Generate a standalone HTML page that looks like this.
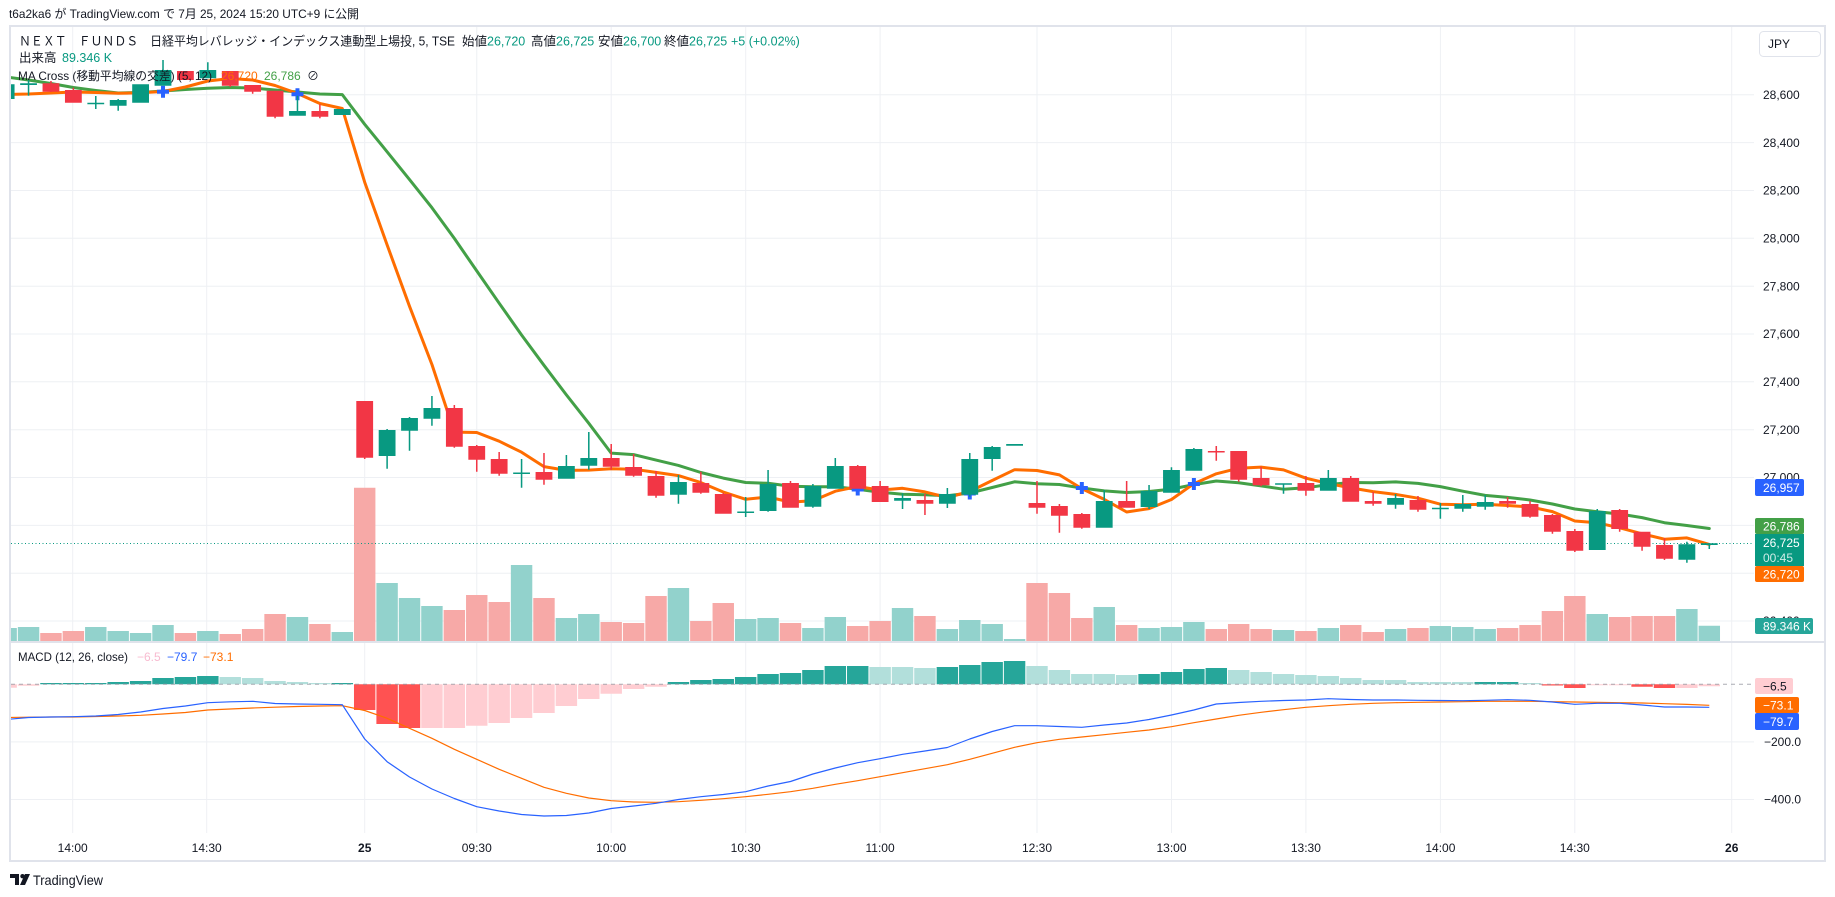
<!DOCTYPE html>
<html><head><meta charset="utf-8">
<style>
html,body{margin:0;padding:0;background:#fff;}
svg{display:block;}
text{font-family:"Liberation Sans","Noto Sans CJK JP",sans-serif;}
</style></head><body>
<svg width="1835" height="897" viewBox="0 0 1835 897" xmlns="http://www.w3.org/2000/svg">
<defs>
<clipPath id="cm"><rect x="11" y="27" width="1743" height="614"/></clipPath>
<clipPath id="cd"><rect x="11" y="643" width="1743" height="190"/></clipPath>
</defs>
<rect width="1835" height="897" fill="#fff"/>
<text x="9" y="18" font-size="12" fill="#131722" textLength="350" lengthAdjust="spacingAndGlyphs">t6a2ka6 が TradingView.com で 7月 25, 2024 15:20 UTC+9 に公開</text>
<rect x="10" y="26" width="1815" height="835" fill="#fff" stroke="#e0e3eb" stroke-width="2"/>

<!-- grid -->
<g stroke="#eef0f4" stroke-width="1">
<path d="M11 94.8H1754M11 142.6H1754M11 190.5H1754M11 238.3H1754M11 286.2H1754M11 334H1754M11 381.8H1754M11 429.7H1754M11 477.5H1754M11 525.4H1754M11 573.2H1754M11 621H1754M11 741.9H1754M11 799.5H1754"/>
<path d="M72.7 27V833M206.7 27V833M364.7 27V833M476.75 27V833M611.2 27V833M745.7 27V833M880.1 27V833M1037 27V833M1171.5 27V833M1305.9 27V833M1440.4 27V833M1574.8 27V833M1731.7 27V833"/>
</g>
<line x1="11" y1="642" x2="1824" y2="642" stroke="#e0e3eb" stroke-width="2"/>

<!-- main pane -->
<g clip-path="url(#cm)">
<g transform="translate(364.7 0) scale(22.41 1)">
<path fill="#92d2cc" d="M-16.478,628h.956V641h-.956zM-15.478,627h.956V641h-.956zM-12.478,627h.956V641h-.956zM-11.478,631h.956V641h-.956zM-10.478,633h.956V641h-.956zM-9.478,625h.956V641h-.956zM-7.478,631h.956V641h-.956zM-3.478,617h.956V641h-.956zM-1.478,632h.956V641h-.956zM.522,583h.956V641h-.956zM1.522,598h.956V641h-.956zM2.522,606h.956V641h-.956zM6.522,565h.956V641h-.956zM8.522,618h.956V641h-.956zM9.522,614h.956V641h-.956zM13.522,588h.956V641h-.956zM16.522,619h.956V641h-.956zM17.522,618h.956V641h-.956zM19.522,628h.956V641h-.956zM20.522,617h.956V641h-.956zM23.522,608h.956V641h-.956zM25.522,629h.956V641h-.956zM26.522,620h.956V641h-.956zM27.522,624h.956V641h-.956zM28.522,639h.956V641h-.956zM32.522,607h.956V641h-.956zM34.522,628h.956V641h-.956zM35.522,627h.956V641h-.956zM36.522,622h.956V641h-.956zM40.522,630h.956V641h-.956zM42.522,628h.956V641h-.956zM45.522,629h.956V641h-.956zM47.522,626h.956V641h-.956zM48.522,627h.956V641h-.956zM49.522,629h.956V641h-.956zM54.522,614h.956V641h-.956zM58.522,609h.956V641h-.956zM59.522,625.7h.956V641h-.956z"/>
<path fill="#f7a9a7" d="M-14.478,633h.956V641h-.956zM-13.478,631h.956V641h-.956zM-8.478,633h.956V641h-.956zM-6.478,634h.956V641h-.956zM-5.478,629h.956V641h-.956zM-4.478,614h.956V641h-.956zM-2.478,624h.956V641h-.956zM-.478,487.7h.956V641h-.956zM3.522,610h.956V641h-.956zM4.522,595h.956V641h-.956zM5.522,602h.956V641h-.956zM7.522,598h.956V641h-.956zM10.522,622h.956V641h-.956zM11.522,623h.956V641h-.956zM12.522,596h.956V641h-.956zM14.522,621h.956V641h-.956zM15.522,603h.956V641h-.956zM18.522,623h.956V641h-.956zM21.522,626h.956V641h-.956zM22.522,621h.956V641h-.956zM24.522,616h.956V641h-.956zM29.522,583h.956V641h-.956zM30.522,593h.956V641h-.956zM31.522,618h.956V641h-.956zM33.522,625h.956V641h-.956zM37.522,629h.956V641h-.956zM38.522,624h.956V641h-.956zM39.522,629h.956V641h-.956zM41.522,631h.956V641h-.956zM43.522,625h.956V641h-.956zM44.522,632h.956V641h-.956zM46.522,628h.956V641h-.956zM50.522,628h.956V641h-.956zM51.522,625h.956V641h-.956zM52.522,611h.956V641h-.956zM53.522,596h.956V641h-.956zM55.522,617h.956V641h-.956zM56.522,616h.956V641h-.956zM57.522,616h.956V641h-.956z"/>

<polyline fill="none" stroke="#43a047" stroke-width="3" vector-effect="non-scaling-stroke" stroke-linejoin="round" stroke-linecap="round" points="-16,77 -15,80 -14,83.5 -13,87.5 -12,90.5 -11,93 -10,92.5 -9,91 -8,89.5 -7,88.3 -6,87.5 -5,88 -4,90 -3,92 -2,94 -1,94.6 0,124.3 1,151.8 2,179.6 3,207.7 4,238.4 5,270.9 6,303.2 7,335 8,365.3 9,394.9 10,423.3 11,453.1 12,454.6 13,460.1 14,465.4 15,472.5 16,478.1 17,482.5 18,483.3 19,486.2 20,486.7 21,486.7 22,489.3 23,492.2 24,494.2 25,494.8 26,495.8 27,493 28,487.5 29,481.8 30,483.8 31,484.5 32,488 33,490.9 34,492.5 35,491.5 36,489.1 37,484.6 38,481 39,482.75 40,485.9 41,489.2 42,487.8 43,484.6 44,482.5 45,482.7 46,481.9 47,483.4 48,486.6 49,491.2 50,495.4 51,497.4 52,500 53,504 54,509 55,511.7 56,514 57,517.6 58,522.7 59,525.5 60,528.5"/>
<polyline fill="none" stroke="#ff6d00" stroke-width="3" vector-effect="non-scaling-stroke" stroke-linejoin="round" stroke-linecap="round" points="-16,94.5 -15,94 -14,93 -13,92 -12,92.5 -11,93.3 -10,92.8 -9,91.5 -8,87 -7,81 -6,78.5 -5,80 -4,85.5 -3,93.5 -2,103.5 -1,108.5 0,182.2 1,244.9 2,306.3 3,364.5 4,432.1 5,432.5 6,441.2 7,452.2 8,466.6 9,470.4 10,470.1 11,468.7 12,469.2 13,472.4 14,475.6 15,482.6 16,492 17,499.3 18,497 19,502.1 20,500.8 21,491.2 22,486.5 23,490.1 24,488.3 25,491.9 26,497.5 27,491.5 28,480.5 29,469.7 30,470.5 31,474.9 32,488.6 33,499.4 34,512 35,508.6 36,499.5 37,483.7 38,473.8 39,468.2 40,467.1 41,469.9 42,478.2 43,483.5 44,487.9 45,491.6 46,494.4 47,498.2 48,504.2 49,504.7 50,504.3 51,505.5 52,506.9 53,511.6 54,521 55,522.8 56,527.8 57,533.8 58,539.2 59,537.9 60,544.4"/>

<path fill="#2962ff" d="M-9.268,89.7h.536v4h-.536zM-9.089,85.7h.178v12h-.178zM-3.268,92.3h.536v4h-.536zM-3.089,88.3h.178v12h-.178zM21.732,487.5h.536v4h-.536zM21.911,483.5h.178v12h-.178zM26.732,491.5h.536v4h-.536zM26.911,487.5h.178v12h-.178zM31.732,486h.536v4h-.536zM31.911,482h.178v12h-.178zM36.732,482h.536v4h-.536zM36.911,478h.178v12h-.178z"/>
</g>
<line x1="11" y1="543.5" x2="1754" y2="543.5" stroke="#089981" stroke-width="1" stroke-dasharray="1 2.5"/>
<g transform="translate(364.7 0) scale(22.41 1)">
<path fill="#089981" d="M-16.375,84.3h.75V99h-.75zM-15.375,83.3h.75V85h-.75zM-12.375,102.8h.75V104.3h-.75zM-11.375,100h.75V105.7h-.75zM-10.375,84.3h.75V102.7h-.75zM-9.375,70h.75V85.7h-.75zM-7.375,70h.75V78.3h-.75zM-3.375,111h.75V115.7h-.75zM-1.375,109h.75V115h-.75zM.625,430h.75V456h-.75zM1.625,418h.75V430.7h-.75zM2.625,408h.75V418.7h-.75zM6.625,472.5h.75V474h-.75zM8.625,466h.75V478.7h-.75zM9.625,458h.75V465.7h-.75zM13.625,482h.75V494.7h-.75zM16.625,511.5h.75V513h-.75zM17.625,484h.75V511h-.75zM19.625,486h.75V506.7h-.75zM20.625,466h.75V488.7h-.75zM23.625,498h.75V500.7h-.75zM25.625,494h.75V503.7h-.75zM26.625,459h.75V494.7h-.75zM27.625,447h.75V459h-.75zM28.625,444h.75V445.7h-.75zM32.625,501h.75V527.7h-.75zM34.625,491h.75V507h-.75zM35.625,470h.75V492.7h-.75zM36.625,449h.75V470.7h-.75zM40.625,483.3h.75V484.8h-.75zM42.625,478h.75V490.7h-.75zM45.625,498h.75V504.7h-.75zM47.625,507.7h.75V509.2h-.75zM48.625,504h.75V508.7h-.75zM49.625,502h.75V506.7h-.75zM54.625,511h.75V550h-.75zM58.625,544.3h.75V559.7h-.75zM59.625,543.3h.75V545h-.75z
M-15.034,80h.068V95.7h-.068zM-12.034,96h.068V109h-.068zM-11.034,99h.068V110.7h-.068zM-9.034,60h.068V85.7h-.068zM-7.034,62.3h.068V78.3h-.068zM-3.034,95.7h.068V115.7h-.068zM.966,429h.068V468.7h-.068zM1.966,417h.068V450.7h-.068zM2.966,396h.068V425.7h-.068zM6.966,459h.068V487.7h-.068zM8.966,455h.068V478.7h-.068zM9.966,432h.068V469.7h-.068zM13.966,475h.068V503.7h-.068zM16.966,497h.068V517h-.068zM17.966,470h.068V511.7h-.068zM19.966,484h.068V507.7h-.068zM20.966,458h.068V488.7h-.068zM23.966,493.3h.068V509h-.068zM25.966,488h.068V508h-.068zM26.966,453h.068V496.7h-.068zM27.966,446h.068V470.7h-.068zM32.966,490h.068V527.7h-.068zM34.966,485h.068V509h-.068zM35.966,467.3h.068V492.7h-.068zM36.966,448h.068V470.7h-.068zM40.966,483.3h.068V493.7h-.068zM42.966,470h.068V490.7h-.068zM45.966,494h.068V508.7h-.068zM47.966,503h.068V518.7h-.068zM48.966,495h.068V511.7h-.068zM49.966,495h.068V509.7h-.068zM54.966,509h.068V550h-.068zM58.966,541.7h.068V562.7h-.068zM59.966,543.3h.068V549h-.068z"/>
<path fill="#f23645" d="M-14.375,83.3h.75V91.7h-.75zM-13.375,90h.75V102.7h-.75zM-8.375,71h.75V80h-.75zM-6.375,71h.75V85.7h-.75zM-5.375,85h.75V91.7h-.75zM-4.375,90.7h.75V116.7h-.75zM-2.375,111h.75V116.7h-.75zM-.375,401h.75V457.7h-.75zM3.625,408h.75V446.7h-.75zM4.625,446h.75V459.7h-.75zM5.625,459h.75V473.7h-.75zM7.625,472h.75V479.7h-.75zM10.625,458h.75V466.7h-.75zM11.625,467h.75V475.7h-.75zM12.625,476h.75V495.7h-.75zM14.625,483h.75V492.7h-.75zM15.625,494h.75V513.7h-.75zM18.625,483h.75V507.7h-.75zM21.625,466h.75V488.7h-.75zM22.625,486h.75V502h-.75zM24.625,500h.75V503.7h-.75zM29.625,503h.75V507.7h-.75zM30.625,506h.75V515.7h-.75zM31.625,514h.75V527.7h-.75zM33.625,501h.75V507.7h-.75zM37.625,451h.75V452.5h-.75zM38.625,451h.75V479.7h-.75zM39.625,478h.75V485.3h-.75zM41.625,483h.75V490.7h-.75zM43.625,478h.75V501.7h-.75zM44.625,501h.75V503.7h-.75zM46.625,500h.75V509.7h-.75zM50.625,501h.75V503.7h-.75zM51.625,504h.75V516.7h-.75zM52.625,515h.75V531.7h-.75zM53.625,531h.75V550.7h-.75zM55.625,510h.75V529h-.75zM56.625,531.7h.75V546.7h-.75zM57.625,545h.75V558.7h-.75z
M-14.034,81h.068V92h-.068zM-13.034,87.7h.068V102.7h-.068zM-6.034,71h.068V86.7h-.068zM-5.034,85h.068V93.7h-.068zM-4.034,90.7h.068V118.3h-.068zM-2.034,104.3h.068V118.3h-.068zM-.034,401h.068V459h-.068zM3.966,405h.068V447.7h-.068zM4.966,445h.068V471.7h-.068zM5.966,452h.068V475.7h-.068zM7.966,453h.068V484.7h-.068zM10.966,444h.068V469.7h-.068zM11.966,454h.068V476.7h-.068zM12.966,471h.068V497.7h-.068zM14.966,471.7h.068V493.7h-.068zM15.966,492.7h.068V513.7h-.068zM18.966,481h.068V507.7h-.068zM21.966,465h.068V488.7h-.068zM22.966,481h.068V502h-.068zM24.966,494h.068V515h-.068zM29.966,481h.068V513.7h-.068zM30.966,504h.068V532.7h-.068zM31.966,513h.068V528.7h-.068zM33.966,481h.068V507.7h-.068zM37.966,446h.068V460.7h-.068zM38.966,451h.068V481.7h-.068zM39.966,466.7h.068V486.3h-.068zM41.966,476h.068V495.7h-.068zM43.966,476h.068V501.7h-.068zM44.966,492h.068V505.7h-.068zM46.966,496h.068V511.7h-.068zM50.966,497h.068V507.7h-.068zM51.966,501h.068V517.7h-.068zM52.966,514h.068V533.7h-.068zM53.966,529h.068V552h-.068zM55.966,509h.068V531.7h-.068zM56.966,531.7h.068V550.7h-.068zM57.966,538.3h.068V560h-.068z"/>
</g>
</g>

<!-- MACD pane -->
<g clip-path="url(#cd)">
<g transform="translate(364.7 0) scale(22.41 1)">
<path fill="#26a69a" d="M-14.478,683h.956V684.3h-.956zM-13.478,683h.956V684.3h-.956zM-12.478,683h.956V684.3h-.956zM-11.478,682h.956V684.3h-.956zM-10.478,681h.956V684.3h-.956zM-9.478,678h.956V684.3h-.956zM-8.478,677h.956V684.3h-.956zM-7.478,676h.956V684.3h-.956zM-1.478,683h.956V684.3h-.956zM13.522,682h.956V684.3h-.956zM14.522,680h.956V684.3h-.956zM15.522,679h.956V684.3h-.956zM16.522,677h.956V684.3h-.956zM17.522,674h.956V684.3h-.956zM18.522,673h.956V684.3h-.956zM19.522,670h.956V684.3h-.956zM20.522,666h.956V684.3h-.956zM21.522,666h.956V684.3h-.956zM25.522,667h.956V684.3h-.956zM26.522,665h.956V684.3h-.956zM27.522,662h.956V684.3h-.956zM28.522,661h.956V684.3h-.956zM34.522,674h.956V684.3h-.956zM35.522,672h.956V684.3h-.956zM36.522,669h.956V684.3h-.956zM37.522,668h.956V684.3h-.956zM49.522,682h.956V684.3h-.956zM50.522,682h.956V684.3h-.956z"/>
<path fill="#b2dfdb" d="M-6.478,677h.956V684.3h-.956zM-5.478,678h.956V684.3h-.956zM-4.478,681h.956V684.3h-.956zM-3.478,682h.956V684.3h-.956zM-2.478,683h.956V684.3h-.956zM22.522,667h.956V684.3h-.956zM23.522,667h.956V684.3h-.956zM24.522,668h.956V684.3h-.956zM29.522,666h.956V684.3h-.956zM30.522,670h.956V684.3h-.956zM31.522,674h.956V684.3h-.956zM32.522,674h.956V684.3h-.956zM33.522,675h.956V684.3h-.956zM38.522,670h.956V684.3h-.956zM39.522,672h.956V684.3h-.956zM40.522,674h.956V684.3h-.956zM41.522,675h.956V684.3h-.956zM42.522,676h.956V684.3h-.956zM43.522,678h.956V684.3h-.956zM44.522,680h.956V684.3h-.956zM45.522,680h.956V684.3h-.956zM46.522,682h.956V684.3h-.956zM47.522,682h.956V684.3h-.956zM48.522,682h.956V684.3h-.956zM51.522,683h.956V684.3h-.956z"/>
<path fill="#ff5252" d="M-.478,684.3h.956V710h-.956zM.522,684.3h.956V724h-.956zM1.522,684.3h.956V728h-.956zM52.522,684.3h.956V685.5h-.956zM53.522,684.3h.956V688h-.956zM56.522,684.3h.956V686.7h-.956zM57.522,684.3h.956V688h-.956z"/>
<path fill="#ffcdd2" d="M-16.478,684.3h.956V687.7h-.956zM-15.478,684.3h.956V685.7h-.956zM2.522,684.3h.956V728h-.956zM3.522,684.3h.956V728h-.956zM4.522,684.3h.956V725.7h-.956zM5.522,684.3h.956V723h-.956zM6.522,684.3h.956V718h-.956zM7.522,684.3h.956V713h-.956zM8.522,684.3h.956V706h-.956zM9.522,684.3h.956V699h-.956zM10.522,684.3h.956V693.7h-.956zM11.522,684.3h.956V689h-.956zM12.522,684.3h.956V686.7h-.956zM54.522,684.3h.956V685.3h-.956zM55.522,684.3h.956V685.3h-.956zM58.522,684.3h.956V688h-.956zM59.522,684.3h.956V686.2h-.956z"/>
</g>
<line x1="11" y1="684.3" x2="1754" y2="684.3" stroke="#9598a1" stroke-width="1" stroke-dasharray="4 4" opacity="0.8"/>
<g transform="translate(364.7 0) scale(22.41 1)">
<polyline fill="none" stroke="#ff6d00" stroke-width="1.2" vector-effect="non-scaling-stroke" stroke-linejoin="round" points="-16,717.5 -15,717.2 -14,717 -13,717 -12,716.5 -11,716 -10,715.3 -9,714 -8,712.5 -7,710 -6,709 -5,708 -4,707.2 -3,706.5 -2,706 -1,705.7 0,710.5 1,718.3 2,728.3 3,738.3 4,749.3 5,759.3 6,769.3 7,778.3 8,787.3 9,793.3 10,798 11,800.7 12,802 13,802.3 14,801.7 15,800.3 16,798.7 17,796.7 18,794.3 19,791.7 20,788.3 21,784.3 22,780.7 23,776.7 24,772.7 25,768.7 26,764.7 27,759.3 28,753.3 29,747.3 30,742.7 31,739.3 32,737 33,734.7 34,732.3 35,730 36,726.7 37,722.7 38,719 39,715.3 40,712.3 41,709.7 42,707.3 43,705.7 44,704.3 45,703.3 46,702.7 47,702.3 48,702 49,701.7 50,701.3 51,701.3 52,701.3 53,701.7 54,702 55,702.3 56,702.7 57,703 58,703.7 59,704.4 60,705.3"/>
<polyline fill="none" stroke="#2962ff" stroke-width="1.2" vector-effect="non-scaling-stroke" stroke-linejoin="round" points="-16,719.5 -15,717.5 -14,717 -13,716.7 -12,716 -11,714.5 -10,712 -9,708.5 -8,706 -7,702.7 -6,701.8 -5,701.3 -4,703.5 -3,704 -2,704.3 -1,704.7 0,739 1,761.7 2,777 3,789 4,798.5 5,806.7 6,811 7,814.5 8,816 9,815.5 10,813 11,808.5 12,806 13,803.3 14,799.5 15,796.7 16,794.5 17,791.7 18,786 19,781.5 20,774 21,768 22,762.7 23,758.7 24,754.3 25,751 26,747.5 27,739 28,731.5 29,725.7 30,725.7 31,726.5 32,727.3 33,725 34,723 35,719.5 36,715 37,710 38,704 39,702.5 40,701.3 41,700.5 42,700 43,698.7 44,699.5 45,700 46,700 47,700.3 48,700.5 49,700.7 50,700.3 51,699.7 52,700.3 53,702 54,704.3 55,703.3 56,703.3 57,705 58,707 59,707 60,707.3"/>
</g>
</g>

<!-- legends -->
<text x="19" y="45.5" font-size="12.5" fill="#131722" textLength="436" lengthAdjust="spacingAndGlyphs">ＮＥＸＴ　ＦＵＮＤＳ　日経平均レバレッジ・インデックス連動型上場投, 5, TSE</text>
<text y="45.5" font-size="12.5"><tspan x="462" fill="#131722">始値</tspan><tspan fill="#089981">26,720</tspan></text>
<text y="45.5" font-size="12.5"><tspan x="531" fill="#131722">高値</tspan><tspan fill="#089981">26,725</tspan></text>
<text y="45.5" font-size="12.5"><tspan x="598" fill="#131722">安値</tspan><tspan fill="#089981">26,700</tspan></text>
<text y="45.5" font-size="12.5"><tspan x="664" fill="#131722">終値</tspan><tspan fill="#089981">26,725</tspan></text>
<text x="731" y="45.5" font-size="12.5" fill="#089981">+5 (+0.02%)</text>
<text x="19" y="62" font-size="12.5" fill="#131722">出来高</text>
<text x="62" y="62" font-size="12.5" fill="#089981">89.346 K</text>
<text x="18" y="80" font-size="12" fill="#131722" textLength="194" lengthAdjust="spacingAndGlyphs">MA Cross (移動平均線の交差) (5, 12)</text>
<text x="221" y="80" font-size="12" fill="#ff6d00">26,720</text>
<text x="264" y="80" font-size="12" fill="#43a047">26,786</text>
<text x="307" y="80" font-size="12" fill="#131722">⊘</text>

<text x="18" y="661" font-size="12" fill="#131722" textLength="110" lengthAdjust="spacingAndGlyphs">MACD (12, 26, close)</text>
<text x="137" y="661" font-size="12" fill="#f8bbd0">−6.5</text>
<text x="167" y="661" font-size="12" fill="#2962ff">−79.7</text>
<text x="203" y="661" font-size="12" fill="#ff6d00">−73.1</text>

<!-- price axis -->
<rect x="1759.5" y="31.5" width="61" height="25" rx="4" fill="#fff" stroke="#e0e3eb"/>
<text x="1768" y="48" font-size="12" fill="#131722">JPY</text>
<g font-size="12" fill="#131722">
<text x="1763" y="99">28,600</text>
<text x="1763" y="146.8">28,400</text>
<text x="1763" y="194.7">28,200</text>
<text x="1763" y="242.5">28,000</text>
<text x="1763" y="290.4">27,800</text>
<text x="1763" y="338.2">27,600</text>
<text x="1763" y="386">27,400</text>
<text x="1763" y="433.9">27,200</text>
<text x="1763" y="481.7">27,000</text>
<text x="1763" y="529.6">26,800</text>
<text x="1763" y="577.4">26,600</text>
<text x="1763" y="625.2">26,400</text>
<text x="1764" y="746">−200.0</text>
<text x="1764" y="803.7">−400.0</text>
</g>
<rect x="1755" y="479" width="49" height="17" rx="2" fill="#2962ff"/>
<text x="1763" y="492" font-size="12" fill="#fff">26,957</text>
<rect x="1755" y="518" width="49" height="16" rx="2" fill="#43a047"/>
<text x="1763" y="530.3" font-size="12" fill="#fff">26,786</text>
<rect x="1755" y="534" width="49" height="32" fill="#089981"/>
<text x="1763" y="547" font-size="12" fill="#fff">26,725</text>
<text x="1763" y="562" font-size="12" fill="#fff" fill-opacity="0.8">00:45</text>
<rect x="1755" y="566" width="49" height="16" rx="2" fill="#ff6d00"/>
<text x="1763" y="578.3" font-size="12" fill="#fff">26,720</text>
<rect x="1755" y="618" width="58" height="16" rx="2" fill="#26a69a"/>
<text x="1763" y="630.3" font-size="12" fill="#fff">89.346 K</text>
<rect x="1755" y="678" width="38" height="16" rx="2" fill="#ffcdd2"/>
<text x="1763" y="690.3" font-size="12" fill="#131722">−6.5</text>
<rect x="1755" y="697" width="44" height="16" rx="2" fill="#ff6d00"/>
<text x="1763" y="709.3" font-size="12" fill="#fff">−73.1</text>
<rect x="1755" y="713" width="44" height="17" rx="2" fill="#2962ff"/>
<text x="1763" y="725.8" font-size="12" fill="#fff">−79.7</text>

<!-- time axis -->
<g font-size="12" fill="#131722" text-anchor="middle">
<text x="72.7" y="852">14:00</text>
<text x="206.7" y="852">14:30</text>
<text x="364.7" y="852" font-weight="bold">25</text>
<text x="476.75" y="852">09:30</text>
<text x="611.2" y="852">10:00</text>
<text x="745.7" y="852">10:30</text>
<text x="880.1" y="852">11:00</text>
<text x="1037" y="852">12:30</text>
<text x="1171.5" y="852">13:00</text>
<text x="1305.9" y="852">13:30</text>
<text x="1440.4" y="852">14:00</text>
<text x="1574.8" y="852">14:30</text>
<text x="1731.7" y="852" font-weight="bold">26</text>
</g>

<!-- footer logo -->
<g fill="#131722">
<path d="M10 874h9v11h-4v-7h-5z"/>
<circle cx="22.5" cy="876.2" r="2.2"/>
<path d="M25 874h5l-5 11h-5z"/>
</g>
<text x="33" y="885" font-size="14" fill="#131722" textLength="70" lengthAdjust="spacingAndGlyphs">TradingView</text>
</svg>
</body></html>
